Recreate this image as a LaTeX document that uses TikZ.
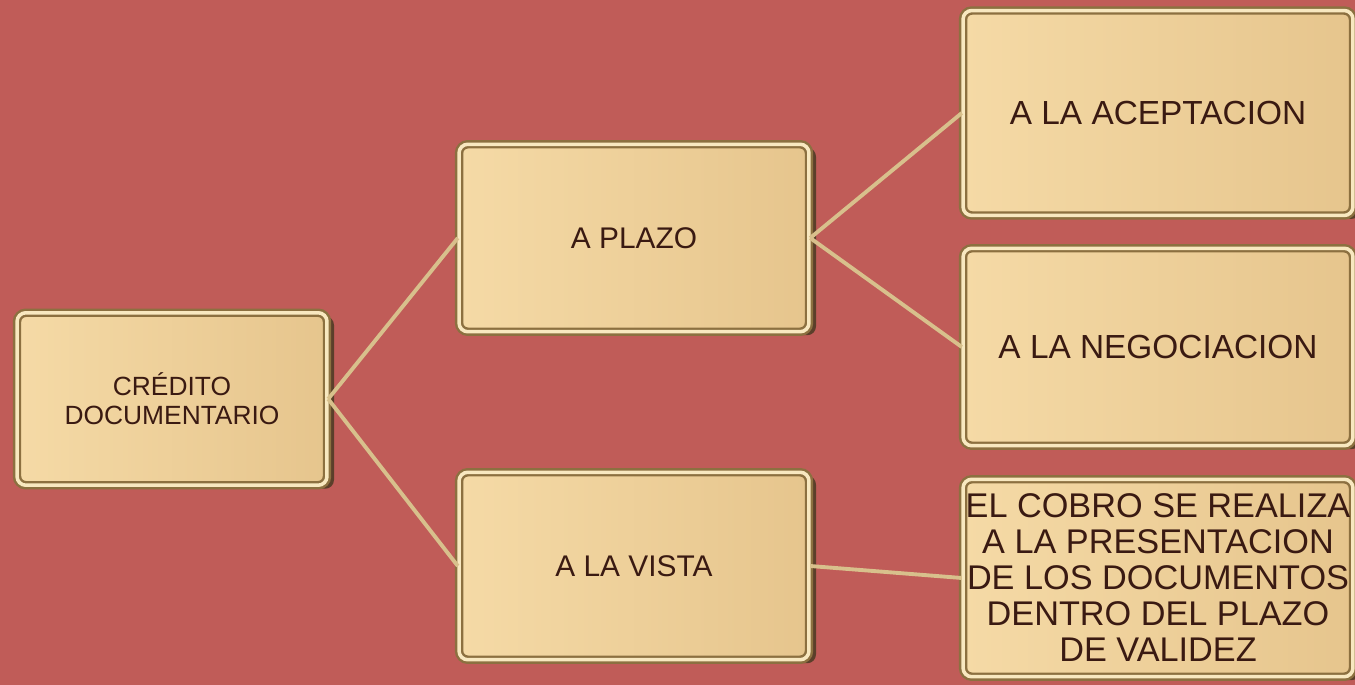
\documentclass[tikz,border=0pt]{standalone}
\usepackage{fontspec}
\setmainfont{Liberation Sans}
\usepackage{xcolor}
\usepackage{tikz}
\usetikzlibrary{shadows}

\definecolor{fondo}{HTML}{C05C58}
\definecolor{cajaclara}{HTML}{F5DAA6}
\definecolor{cajaoscura}{HTML}{E6C58D}
\definecolor{borde}{HTML}{8C7040}
\definecolor{brillo}{HTML}{F8E8C0}
\definecolor{sombra}{HTML}{4A3A22}
\definecolor{linea}{HTML}{D8C08C}
\definecolor{texto}{HTML}{3A1A12}

\tikzset{
  caja/.style={rectangle, rounded corners=5pt, left color=cajaclara, right color=cajaoscura,
    draw=borde, double=brillo, double distance=2pt, line width=1.4pt,
    drop shadow={shadow xshift=4pt, shadow yshift=-2pt, fill=sombra, opacity=0.85},
    text=texto, align=center, inner sep=1pt},
  conector/.style={draw=linea, line width=2.2pt}
}

\begin{document}
\begin{tikzpicture}[x=0.02cm, y=-0.02cm]
    \fill[fondo] (0,0) rectangle (1355,685);
    \useasboundingbox (0,0) rectangle (1355,685);

    % Raiz
    \node[caja, minimum width=6.2cm, minimum height=3.45cm,
          font=\fontsize{15}{16.5}\selectfont] (credito) at (172,399) {CRÉDITO\\DOCUMENTARIO};

    % Segundo nivel
    \node[caja, minimum width=7.0cm, minimum height=3.75cm,
          font=\fontsize{17}{19}\selectfont] (plazo) at (634,238) {A PLAZO};
    \node[caja, minimum width=7.0cm, minimum height=3.75cm,
          font=\fontsize{17}{19}\selectfont] (vista) at (634,566) {A LA VISTA};

    % Tercer nivel
    \node[caja, minimum width=7.8cm, minimum height=4.1cm,
          font=\fontsize{19}{21}\selectfont] (aceptacion) at (1158,113) {A LA ACEPTACION};
    \node[caja, minimum width=7.8cm, minimum height=3.95cm,
          font=\fontsize{19}{21}\selectfont] (negociacion) at (1158,347) {A LA NEGOCIACION};
    \node[caja, minimum width=7.8cm, minimum height=3.95cm,
          font=\fontsize{19.5}{20.5}\selectfont] (cobro) at (1158,578)
          {EL COBRO SE REALIZA\\A LA PRESENTACION\\DE LOS DOCUMENTOS\\DENTRO DEL PLAZO\\DE VALIDEZ};

    % Conectores
    \draw[conector] (credito.east) -- (plazo.west);
    \draw[conector] (credito.east) -- (vista.west);
    \draw[conector] (plazo.east) -- (aceptacion.west);
    \draw[conector] (plazo.east) -- (negociacion.west);
    \draw[conector] (vista.east) -- (cobro.west);
\end{tikzpicture}
\end{document}
